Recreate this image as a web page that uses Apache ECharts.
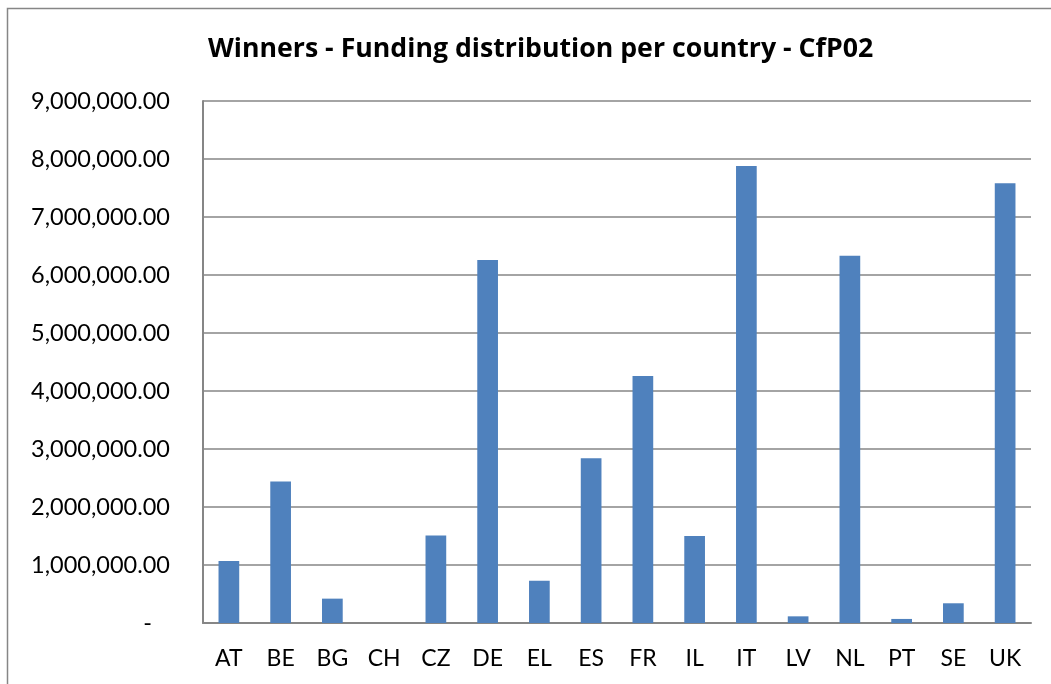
<!doctype html>
<html>
<head>
    <meta charset="utf-8">
    <title>Winners - Funding distribution per country - CfP02</title>
    <style>
        html, body { margin: 0; padding: 0; background: #fff; }
        #chart { width: 1051px; height: 684px; }
    </style>
</head>
<body>
<div id="chart"></div>
<script src="https://cdn.jsdelivr.net/npm/echarts@6/dist/echarts.min.js"></script>
<script>
    // 数据
    var countries = ['AT', 'BE', 'BG', 'CH', 'CZ', 'DE', 'EL', 'ES', 'FR', 'IL', 'IT', 'LV', 'NL', 'PT', 'SE', 'UK'];
    var funding = [1070000, 2440000, 420000, 0, 1510000, 6260000, 730000, 2840000, 4260000, 1500000,
        7880000, 115000, 6330000, 70000, 340000, 7580000];

    var myChart = echarts.init(document.getElementById('chart'));
    var fontFam = 'Lato, "Open Sans", sans-serif';

    var option = {
        backgroundColor: '#fff',
        animation: false,
        title: {
            text: 'Winners - Funding distribution per country - CfP02',
            left: 203,
            top: 31,
            textStyle: { fontFamily: '"Open Sans", sans-serif', fontSize: 26.7, fontWeight: 'bold', color: '#000' }
        },
        graphic: [{
            type: 'rect',
            shape: { x: 7.5, y: 8.5, width: 1060, height: 700 },
            style: { fill: 'none', stroke: '#868686', lineWidth: 1.5 },
            silent: true
        }],
        grid: { left: 203, right: 20, top: 101, bottom: 61 },
        xAxis: {
            type: 'category',
            data: countries,
            axisLine: { lineStyle: { color: '#868686', width: 2 } },
            axisTick: { show: false },
            axisLabel: { fontFamily: fontFam, fontSize: 23, color: '#000', margin: 24 }
        },
        yAxis: {
            type: 'value',
            min: 0,
            max: 9000000,
            interval: 1000000,
            axisLine: { show: true, lineStyle: { color: '#868686', width: 2 } },
            axisTick: { show: false },
            splitLine: { lineStyle: { color: '#868686', width: 1.5 } },
            axisLabel: {
                fontFamily: fontFam, fontSize: 23.5, color: '#000', margin: 33,
                formatter: function (v) {
                    if (v === 0) return '-   ';
                    return v.toLocaleString('en-US', { minimumFractionDigits: 2, maximumFractionDigits: 2 });
                }
            }
        },
        series: [{
            type: 'bar',
            data: funding,
            barWidth: '40%',
            itemStyle: { color: '#4F81BD' }
        }]
    };
    myChart.setOption(option);
</script>
</body>
</html>
